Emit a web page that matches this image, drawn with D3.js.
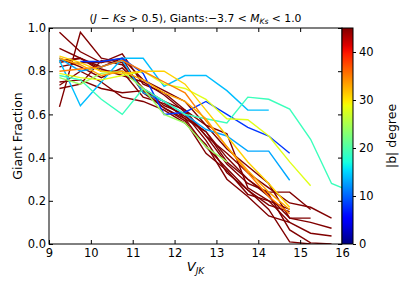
<!DOCTYPE html>
<html>
<head>
<meta charset="utf-8">
<script src="https://cdn.jsdelivr.net/npm/d3@7"></script>
<style>
  body { margin: 0; background: #fff; }
  text { font-family: "DejaVu Sans", sans-serif; }
</style>
</head>
<body>
<div id="container"></div>
<script>
const width = 407, height = 291;

// bin centres in V_JK
const vjk = [9.25, 9.75, 10.25, 10.75, 11.25, 11.75, 12.25, 12.75, 13.25, 13.75, 14.25, 14.75, 15.25, 15.75, 16.25];

// |b| of each field and its giant fraction per bin (null = no data)
const latitude = [45, 45, 45, 45, 45, 45, 45, 45, 45, 45, 14, 13, 8, 19, 24, 28, 31, 35, 33];
const giantFrac = [
  [0.98, 0.89, 0.84, 0.88, 0.74, 0.70, 0.62, 0.50, 0.42, 0.33, 0.26, 0.19, 0.17, 0.12],
  [0.635, 0.98, 0.86, 0.84, 0.70, 0.66, 0.58, 0.52, 0.38, 0.30, 0.22, 0.12, 0.10, 0.073],
  [0.906, 0.86, 0.82, 0.86, 0.76, 0.71, 0.66, 0.55, 0.51, 0.26, 0.20, 0.10, 0.05, 0.037],
  [0.86, 0.82, 0.77, 0.815, 0.72, 0.64, 0.60, 0.48, 0.33, 0.25, 0.16, 0.01, 0.0],
  [0.85, 0.86, 0.80, 0.80, 0.68, 0.65, 0.59, 0.52, 0.40, 0.30, 0.23, 0.065, 0.005, 0.0],
  [0.84, 0.86, 0.81, 0.78, 0.75, 0.69, 0.61, 0.50, 0.37, 0.28, 0.24, 0.24, 0.16],
  [0.75, 0.76, 0.72, 0.70, 0.71, 0.63, 0.58, 0.45, 0.35, 0.25, 0.18, 0.15],
  [0.735, 0.80, 0.75, 0.68, 0.66, 0.62, 0.56, 0.46, 0.30, 0.22, 0.13, 0.10],
  [0.72, 0.74, 0.85, 0.83, 0.72, 0.66, 0.62, 0.55, 0.44, 0.36, 0.28, 0.12, 0.12],
  [0.82, 0.84, 0.84, 0.86, 0.70, 0.63, 0.57, 0.42, 0.34, 0.23, 0.20, 0.16],
  [0.85, 0.64, 0.75, 0.86, 0.86, 0.73, 0.78, 0.78, 0.71, 0.62, 0.62],
  [0.86, 0.80, 0.82, 0.85, 0.70, 0.66, 0.60, 0.53, 0.50, 0.43, 0.43, 0.295],
  [null, 0.845, 0.845, 0.86, 0.79, 0.60, 0.61, 0.66, 0.60, 0.54, 0.50, 0.42],
  [0.78, 0.76, 0.67, 0.60, 0.72, 0.66, 0.60, 0.58, 0.56, 0.68, 0.67, 0.625, 0.485, 0.28, 0.24],
  [0.77, 0.74, 0.79, 0.80, 0.72, 0.60, 0.56, 0.45, 0.38],
  [0.79, 0.77, 0.76, 0.78, 0.80, 0.74, 0.72, 0.67, 0.58, 0.575, 0.50, 0.38, 0.27],
  [0.87, 0.84, 0.80, 0.79, 0.80, 0.80, 0.74, 0.62, 0.50, 0.38, 0.28, 0.17],
  [0.80, 0.81, 0.82, 0.85, 0.80, 0.75, 0.70, 0.57, 0.45, 0.33, 0.22, 0.14],
  [0.86, 0.83, 0.78, 0.80, 0.76, 0.70, 0.66, 0.58, 0.45, 0.34, 0.24, 0.16]
];

const xTicks = [9, 10, 11, 12, 13, 14, 15, 16];
const yTicks = [0, 0.2, 0.4, 0.6, 0.8, 1.0];
const cTicks = [0, 10, 20, 30, 40];

const mLeft = 49, mRight = 342, mTop = 28, mBottom = 244;

// matplotlib "jet"
function jet(t) {
  const seg = pts => {
    for (let i = 1; i < pts.length; i++) {
      if (t <= pts[i][0]) {
        const [x0, y0] = pts[i - 1], [x1, y1] = pts[i];
        return y0 + (y1 - y0) * (t - x0) / (x1 - x0);
      }
    }
    return pts[pts.length - 1][1];
  };
  const r = seg([[0, 0], [0.35, 0], [0.66, 1], [0.89, 1], [1, 0.5]]);
  const g = seg([[0, 0], [0.125, 0], [0.375, 1], [0.64, 1], [0.91, 0], [1, 0]]);
  const b = seg([[0, 0.5], [0.11, 1], [0.34, 1], [0.65, 0], [1, 0]]);
  return d3.rgb(r * 255, g * 255, b * 255).toString();
}

const svg = d3.select("#container").append("svg")
  .attr("width", width)
  .attr("height", height);

const xScale = d3.scaleLinear().domain([9, 16]).range([mLeft, mRight]);
const yScale = d3.scaleLinear().domain([0, 1]).range([mBottom, mTop]);
const cScale = d3.scaleSequential(jet).domain([0, 45]);
const cY = d3.scaleLinear().domain([0, 45]).range([mBottom, mTop]);

svg.append("clipPath").attr("id", "plot")
  .append("rect")
  .attr("x", mLeft).attr("y", mTop)
  .attr("width", mRight - mLeft).attr("height", mBottom - mTop);

const line = d3.line()
  .defined(d => d != null)
  .x((d, i) => xScale(vjk[i]))
  .y(d => yScale(d));

svg.append("g")
  .attr("clip-path", "url(#plot)")
  .selectAll("path")
  .data(giantFrac)
  .join("path")
  .attr("d", d => line(d))
  .attr("fill", "none")
  .attr("stroke", (d, i) => cScale(latitude[i]))
  .attr("stroke-width", 1.4)
  .attr("stroke-linejoin", "miter");

/* Axes, ticks pointing in like matplotlib classic */
const xAxis = d3.axisBottom(xScale).tickValues(xTicks).tickSize(-4).tickPadding(5).tickFormat(d3.format("d"));
const yAxis = d3.axisLeft(yScale).tickValues(yTicks).tickSize(-4).tickPadding(3).tickFormat(d3.format(".1f"));

svg.append("g")
  .attr("transform", `translate(0,${mBottom})`)
  .call(xAxis)
  .call(g => g.select(".domain").remove());
svg.append("g")
  .attr("transform", `translate(${mLeft},0)`)
  .call(yAxis)
  .call(g => g.select(".domain").remove());
svg.append("g")
  .attr("transform", `translate(0,${mTop})`)
  .call(d3.axisTop(xScale).tickValues(xTicks).tickSize(-4).tickFormat(""))
  .call(g => g.select(".domain").remove());
svg.append("g")
  .attr("transform", `translate(${mRight},0)`)
  .call(d3.axisRight(yScale).tickValues(yTicks).tickSize(-4).tickFormat(""))
  .call(g => g.select(".domain").remove());

svg.selectAll(".tick text")
  .attr("font-size", 11.5)
  .attr("fill", "#000")
  .style("font-family", "DejaVu Sans");
svg.selectAll(".tick line").attr("stroke", "#000");

svg.append("rect")
  .attr("x", mLeft).attr("y", mTop)
  .attr("width", mRight - mLeft).attr("height", mBottom - mTop)
  .attr("fill", "none").attr("stroke", "#000").attr("stroke-width", 1);

/* Colorbar */
const defs = svg.append("defs");
const grad = defs.append("linearGradient")
  .attr("id", "jet").attr("x1", 0).attr("y1", 1).attr("x2", 0).attr("y2", 0);
d3.range(0, 1.0001, 0.02).forEach(t => {
  grad.append("stop").attr("offset", t).attr("stop-color", jet(t));
});
const cbLeft = 342, cbW = 11;
svg.append("rect")
  .attr("x", cbLeft).attr("y", mTop)
  .attr("width", cbW).attr("height", mBottom - mTop)
  .attr("fill", "url(#jet)")
  .attr("stroke", "#000").attr("stroke-width", 1);

svg.append("g")
  .attr("transform", `translate(${cbLeft + cbW},0)`)
  .call(d3.axisRight(cY).tickValues(cTicks).tickSize(3).tickPadding(3))
  .call(g => g.select(".domain").remove())
  .call(g => g.selectAll("text").attr("font-size", 11.5).attr("fill", "#000"));

svg.append("text")
  .attr("transform", `translate(392,${(mTop + mBottom) / 2}) rotate(-90)`)
  .attr("text-anchor", "middle")
  .attr("dy", "0.35em")
  .attr("font-size", 12.5)
  .text("|b| degree");

/* Labels */
svg.append("text")
  .attr("transform", `translate(18,${(mTop + mBottom) / 2}) rotate(-90)`)
  .attr("text-anchor", "middle")
  .attr("dy", "0.35em")
  .attr("font-size", 12.5)
  .text("Giant Fraction");

const xl = svg.append("text")
  .attr("x", (mLeft + mRight) / 2)
  .attr("y", 271)
  .attr("text-anchor", "middle")
  .attr("font-size", 13);
xl.append("tspan").attr("font-style", "italic").text("V");
xl.append("tspan").attr("font-style", "italic").attr("font-size", 9).attr("dy", 3).text("JK");

const title = svg.append("text")
  .attr("x", (mLeft + mRight) / 2)
  .attr("y", 22)
  .attr("text-anchor", "middle")
  .attr("font-size", 10.8);
title.append("tspan").text("(");
title.append("tspan").attr("font-style", "italic").text("J");
title.append("tspan").text(" \u2212 ");
title.append("tspan").attr("font-style", "italic").text("Ks");
title.append("tspan").text(" > 0.5), Giants:\u22123.7 < ");
title.append("tspan").attr("font-style", "italic").text("M");
title.append("tspan").attr("font-style", "italic").attr("font-size", 7.5).attr("dy", 2).text("Ks");
title.append("tspan").attr("dy", -2).text(" < 1.0");
</script>
</body>
</html>
